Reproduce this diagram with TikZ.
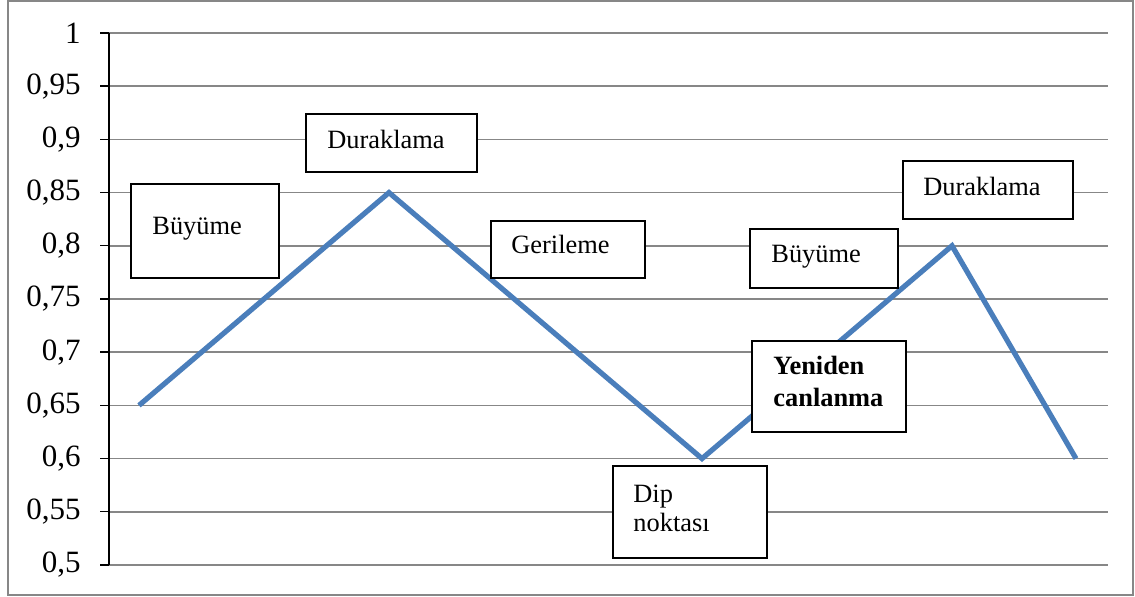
\documentclass[tikz,border=0pt]{standalone}
\usepackage{fontspec}
\setmainfont{Liberation Serif}
\definecolor{seriesblue}{RGB}{74,126,187}
\begin{document}
\begin{tikzpicture}[x=0.5pt,y=-0.5pt,
  grid/.style={draw=black!47, line width=0.75pt},
  frame/.style={draw=black!47, line width=0.7pt},
  axisline/.style={draw=black, line width=0.7pt},
  series/.style={draw=seriesblue, line width=2.6pt, line join=miter},
  phase/.style={draw=black, line width=0.8pt, fill=white, rectangle, inner sep=0pt},
  lbl/.style={anchor=base west, inner sep=0pt, font=\fontsize{13.2}{16}\selectfont},
  boldlbl/.style={lbl, font=\fontsize{13.2}{16}\selectfont\bfseries},
  tick/.style={anchor=east, inner sep=0pt, font=\fontsize{15.5}{18}\selectfont}]
  % canvas and outer frame
  \useasboundingbox (0,0) rectangle (1135,597);
  \draw[frame] (8,1) rectangle (1133,595);
  % horizontal grid with value labels
  \foreach \k/\v in {0/1,1/{0,95},2/{0,9},3/{0,85},4/{0,8},5/{0,75},6/{0,7},7/{0,65},8/{0,6},9/{0,55},10/{0,5}}{
    \pgfmathsetmacro{\yy}{33+53.2*\k}
    \draw[grid] (109,\yy) -- (1108,\yy);
    \draw[axisline] (100,\yy) -- (109,\yy);
    \node[tick] (t\k) at (81,\yy) {\v};
  }
  \draw[axisline] (109,33) -- (109,565);
  % cycle curve
  \coordinate (p1) at (139,405.4);
  \coordinate (p2) at (389,192.6);
  \coordinate (p3) at (702,458.6);
  \coordinate (p4) at (952,245.8);
  \coordinate (p5) at (1076,458.6);
  \draw[series] (p1) -- (p2) -- (p3) -- (p4) -- (p5);
  % phase boxes
  \node[phase, minimum width=74pt, minimum height=47pt] (b1) at (205,231) {};
  \node[lbl] (l1) at (152,235) {Büyüme};
  \node[phase, minimum width=85.5pt, minimum height=29pt] (b2) at (391.5,143) {};
  \node[lbl] (l2) at (327,149) {Duraklama};
  \node[phase, minimum width=77pt, minimum height=28.5pt] (b3) at (568,249.5) {};
  \node[lbl] (l3) at (511,254) {Gerileme};
  \node[phase, minimum width=74pt, minimum height=29.5pt] (b4) at (824,258.5) {};
  \node[lbl] (l4) at (771,263) {Büyüme};
  \node[phase, minimum width=85pt, minimum height=29pt] (b5) at (988,190) {};
  \node[lbl] (l5) at (923,196) {Duraklama};
  \node[phase, minimum width=77pt, minimum height=45.5pt] (b6) at (829,386.5) {};
  \node[boldlbl] (l6) at (773,375) {Yeniden};
  \node[boldlbl] (l6b) at (773,407) {canlanma};
  \node[phase, minimum width=77pt, minimum height=46pt] (b7) at (690,512) {};
  \node[lbl] (l7) at (633,503) {Dip};
  \node[lbl] (l7b) at (633,532) {noktası};
\end{tikzpicture}
\end{document}
